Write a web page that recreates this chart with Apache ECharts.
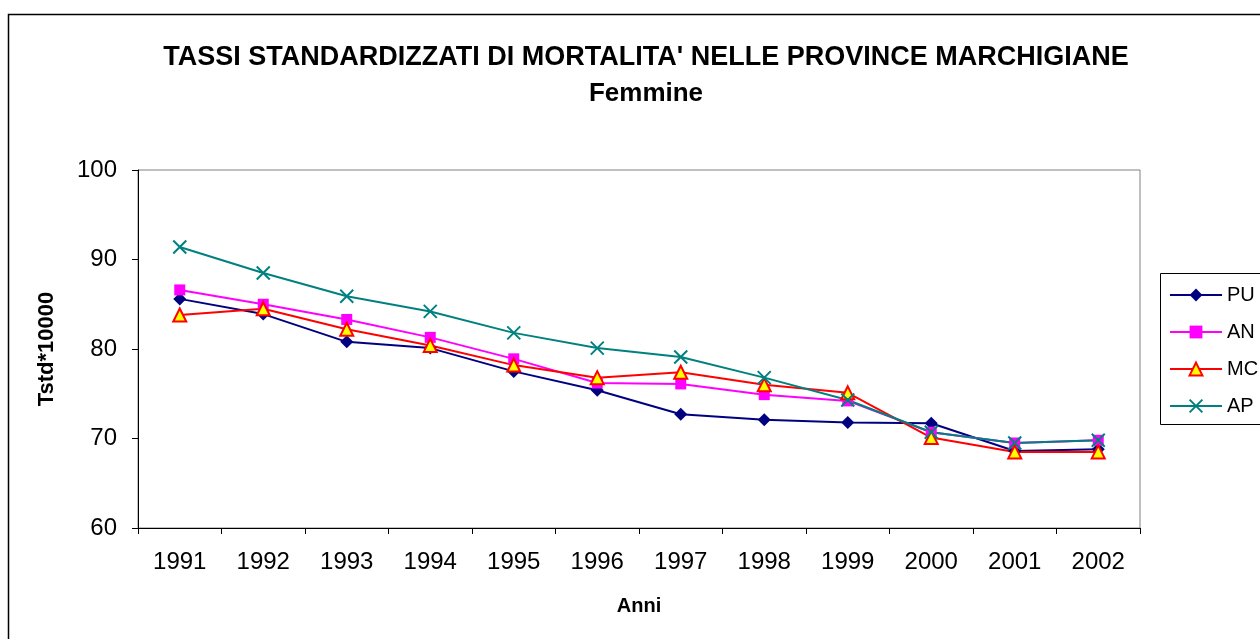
<!DOCTYPE html>
<html>
<head>
<meta charset="utf-8">
<script src="https://cdn.jsdelivr.net/npm/echarts@6/dist/echarts.min.js"></script>
<style>html,body{margin:0;padding:0;background:#fff;}#c{width:1260px;height:639px;}</style>
</head>
<body>
<div id="c"></div>
<script>
const years = ['1991','1992','1993','1994','1995','1996','1997','1998','1999','2000','2001','2002'];
const PU = [85.6, 83.9, 80.8, 80.1, 77.5, 75.4, 72.7, 72.1, 71.8, 71.7, 68.6, 68.8];
const AN = [86.6, 85.0, 83.3, 81.3, 78.9, 76.2, 76.1, 74.9, 74.2, 70.7, 69.5, 69.8];
const MC = [83.8, 84.5, 82.2, 80.4, 78.2, 76.8, 77.4, 76.0, 75.1, 70.1, 68.5, 68.5];
const AP = [91.4, 88.5, 85.9, 84.2, 81.8, 80.1, 79.1, 76.8, 74.3, 70.7, 69.5, 69.8];
const yTicks = [60, 70, 80, 90, 100];

const font = 'Liberation Sans, Arial, sans-serif';
const chart = echarts.init(document.getElementById('c'), null, {renderer: 'canvas'});
const xPath = 'path://M0,0L10,10M10,0L0,10';
chart.setOption({
  animation: false,
  backgroundColor: '#ffffff',
  title: [
    {text: "TASSI STANDARDIZZATI DI MORTALITA' NELLE PROVINCE MARCHIGIANE", left: 641, textAlign: 'center', top: 39,
     textStyle: {fontFamily: font, fontSize: 27, fontWeight: 'bold', color: '#000'}},
    {text: 'Femmine', left: 641, textAlign: 'center', top: 76,
     textStyle: {fontFamily: font, fontSize: 26, fontWeight: 'bold', color: '#000'}}
  ],
  graphic: [
    {type: 'rect', shape: {x: 8.5, y: 14.5, width: 1400, height: 800}, style: {fill: 'none', stroke: '#000', lineWidth: 1.5}, silent: true, z: -10},
    {type: 'rect', shape: {x: 1160.5, y: 273.5, width: 200, height: 151}, style: {fill: '#fff', stroke: '#000', lineWidth: 1}, silent: true, z: 0}
  ],
  grid: {left: 138, right: 120, top: 170, bottom: 111, show: true, borderColor: '#808080', borderWidth: 1, backgroundColor: 'transparent'},
  legend: {
    orient: 'vertical', left: 1164, top: 280, itemWidth: 52, itemHeight: 16, itemGap: 17,
    textStyle: {fontFamily: font, fontSize: 20, color: '#000'},
    data: ['PU','AN','MC','AP'], z: 5
  },
  xAxis: {
    type: 'category', data: years, boundaryGap: true,
    axisLine: {lineStyle: {color: '#000', width: 1}},
    axisTick: {show: true, length: 6, lineStyle: {color: '#000'}},
    axisLabel: {fontFamily: font, fontSize: 24, color: '#000', margin: 22},
    name: 'Anni', nameLocation: 'middle', nameGap: 68,
    nameTextStyle: {fontFamily: font, fontSize: 20, fontWeight: 'bold', color: '#000'},
    splitLine: {show: false}
  },
  yAxis: {
    type: 'value', min: yTicks[0], max: yTicks[yTicks.length-1], interval: 10,
    axisLine: {show: true, lineStyle: {color: '#000', width: 1}},
    axisTick: {show: true, length: 6, lineStyle: {color: '#000'}},
    axisLabel: {fontFamily: font, fontSize: 24, color: '#000', margin: 21},
    splitLine: {show: false},
    name: 'Tstd*10000', nameLocation: 'middle', nameGap: 80,
    nameTextStyle: {fontFamily: font, fontSize: 22, fontWeight: 'bold', color: '#000'}
  },
  series: [
    {name: 'PU', type: 'line', data: PU, symbol: 'diamond', symbolSize: 13,
     lineStyle: {color: '#000080', width: 2}, itemStyle: {color: '#000080'}},
    {name: 'AN', type: 'line', data: AN, symbol: 'rect', symbolSize: 11,
     lineStyle: {color: '#FF00FF', width: 2}, itemStyle: {color: '#FF00FF'}},
    {name: 'MC', type: 'line', data: MC, symbol: 'triangle', symbolSize: 13,
     lineStyle: {color: '#FF0000', width: 2}, itemStyle: {color: '#FFFF00', borderColor: '#FF0000', borderWidth: 2}},
    {name: 'AP', type: 'line', data: AP, symbol: xPath, symbolSize: 13,
     lineStyle: {color: '#008080', width: 2}, itemStyle: {color: '#008080', borderColor: '#008080', borderWidth: 2}}
  ]
});
</script>
</body>
</html>
